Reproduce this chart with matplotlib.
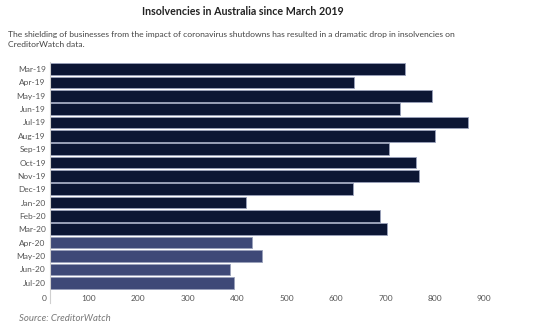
import matplotlib
matplotlib.use("Agg")
import matplotlib.pyplot as plt
from matplotlib.transforms import ScaledTranslation

# monthly insolvencies
months = ["Mar-19", "Apr-19", "May-19", "Jun-19", "Jul-19", "Aug-19",
          "Sep-19", "Oct-19", "Nov-19", "Dec-19", "Jan-20", "Feb-20",
          "Mar-20", "Apr-20", "May-20", "Jun-20", "Jul-20"]
insolvencies = [719, 616, 773, 709, 847, 779, 686, 742, 748, 614,
                398, 668, 683, 410, 429, 364, 373]
# months after the shutdowns began are drawn in the lighter blue
covid_start = "Apr-20"
x_ticks = [0, 100, 200, 300, 400, 500, 600, 700, 800, 900]

dark = "#0c1634"
light = "#3e4977"

plt.rcParams["font.family"] = ["Lato", "DejaVu Sans"]

fig = plt.figure(figsize=(5.54, 3.28), dpi=100)
ax = fig.add_axes([0.0894, 0.0765, 0.8034, 0.7335])

cut = months.index(covid_start)
colors = [dark if i < cut else light for i in range(len(months))]
ypos = list(range(len(months)))
ax.barh(ypos, insolvencies, height=0.87, color=colors,
        edgecolor="#9aa1bb", linewidth=0.6)

ax.set_xlim(0, 900)
ax.set_ylim(17.51, -0.5)
ax.set_yticks(ypos)
ax.set_yticklabels(months)
ax.set_xticks(x_ticks)
ax.set_xticklabels([str(t) for t in x_ticks])

for s in ["top", "right", "bottom"]:
    ax.spines[s].set_visible(False)
ax.spines["left"].set_color("#d0d0d0")
ax.spines["left"].set_linewidth(0.8)

ax.tick_params(axis="y", length=0, pad=2.7, labelsize=6, labelcolor="#555555")
ax.tick_params(axis="x", length=0, pad=-5.8, labelsize=6, labelcolor="#555555")

# x labels sit just left of their tick, right aligned
shift = ScaledTranslation(-3 / 100, 0, fig.dpi_scale_trans)
for lab in ax.get_xticklabels():
    lab.set_ha("right")
    lab.set_transform(lab.get_transform() + shift)

fig.text(0.4377, 0.966, "Insolvencies in Australia since March 2019",
         ha="center", va="center", fontsize=7.7, fontweight="bold", color="#222222")
fig.text(0.0144, 0.881,
         "The shielding of businesses from the impact of coronavirus shutdowns has resulted in a dramatic drop in insolvencies on\nCreditorWatch data.",
         ha="left", va="center", fontsize=6.1, color="#444444", linespacing=1.5)
fig.text(0.034, 0.0296, "Source: CreditorWatch", ha="left", va="center",
         fontsize=6.9, style="italic", color="#777777")

fig.savefig("out.png", dpi=100)
